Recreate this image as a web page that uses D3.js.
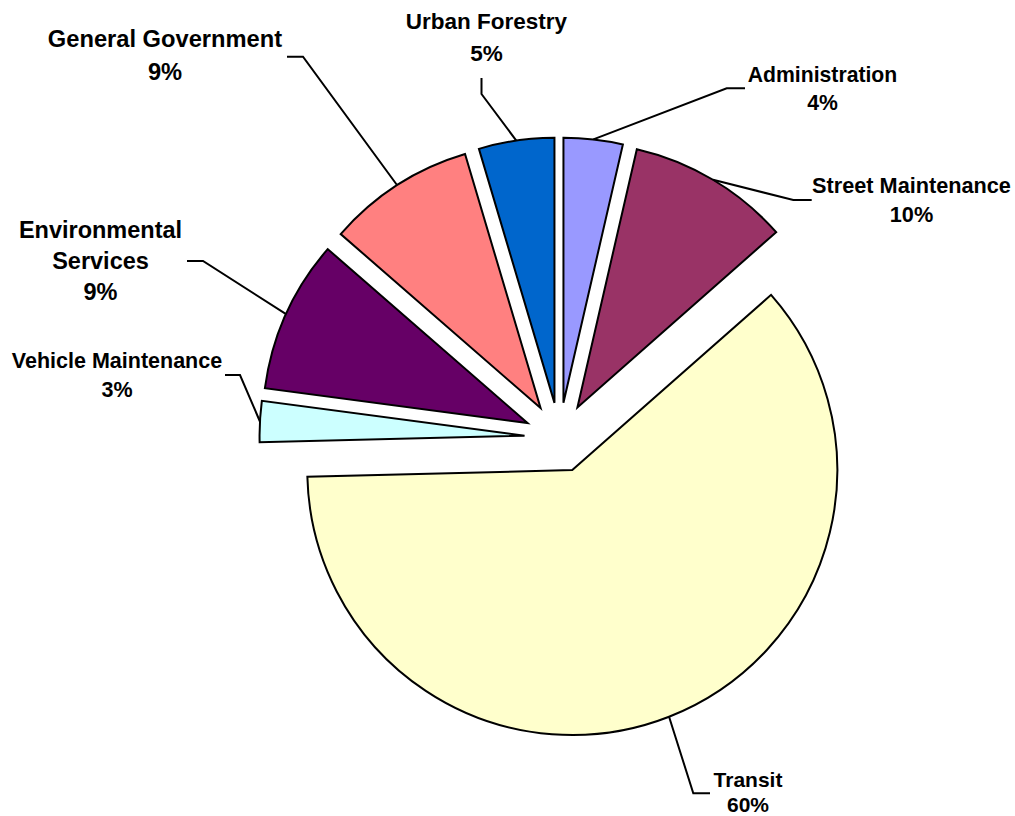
<!DOCTYPE html>
<html>
<head>
<meta charset="utf-8">
<script src="https://cdn.jsdelivr.net/npm/d3@7"></script>
<style>
  body { margin: 0; background: #ffffff; }
  svg { display: block; }
  text { font-family: "Liberation Sans", Arial, sans-serif; font-weight: bold; fill: #000; }
</style>
</head>
<body>
<svg id="chart" width="1015" height="816"></svg>
<script>
// ---- data ----
const categories = ["Administration", "Street Maintenance", "Transit", "Vehicle Maintenance",
                    "Environmental Services", "General Government", "Urban Forestry"];
const values = [3.6, 9.9, 61.1, 2.5, 9.3, 9.0, 4.6];
const percentLabels = ["4%", "10%", "60%", "3%", "9%", "9%", "5%"];
const nameLines = [["Administration"], ["Street Maintenance"], ["Transit"], ["Vehicle Maintenance"],
                   ["Environmental", "Services"], ["General Government"], ["Urban Forestry"]];
const colors = ["#9999FF", "#993366", "#FFFFCC", "#CCFFFF", "#660066", "#FF8080", "#0066CC"];

// ---- label layout (position of each label block and its leader elbow) ----
const labelX      = [822.5, 911.5, 748, 117, 100.5, 165, 486.5];
const labelY      = [81.7, 193.3, 786.5, 368, 238.3, 47.3, 29];
const labelLead   = [28.3, 28.4, 25, 28.7, 31, 32.7, 32];
const labelSize   = [21.2, 21.7, 21, 21.5, 23.5, 23.7, 22.5];
const leaderElbow = [
  [[745, 88.3], [726.7, 88.3]],
  [[811.7, 200], [793.3, 200]],
  [[710, 793.3], [693.3, 793.3]],
  [[225, 375], [240, 375]],
  [[187, 261], [203, 261]],
  [[287, 56.7], [303, 56.7]],
  [[481.5, 78], [481.5, 94]]
];

// ---- geometry ----
const cx = 559.5, cy = 437.5, R = 265, explode = 35;

const svg = d3.select("#chart");
const g = svg.append("g").attr("transform", `translate(${cx},${cy})`);

const pie = d3.pie().sort(null).value(d => d).startAngle(0).endAngle(2 * Math.PI);
const arcs = pie(values);
const arc = d3.arc().innerRadius(0).outerRadius(R);

const offset = d => {
  const m = (d.startAngle + d.endAngle) / 2;
  return [Math.sin(m) * explode, -Math.cos(m) * explode];
};

g.selectAll("path.slice")
  .data(arcs)
  .enter().append("path")
  .attr("class", "slice")
  .attr("d", arc)
  .attr("transform", d => `translate(${offset(d)[0]},${offset(d)[1]})`)
  .attr("fill", (d, i) => colors[i])
  .attr("stroke", "#000")
  .attr("stroke-width", 2)
  .attr("stroke-linejoin", "miter");

// leader lines
const line = d3.line();
arcs.forEach((d, i) => {
  const m = (d.startAngle + d.endAngle) / 2;
  const [ox, oy] = offset(d);
  const ax = cx + ox + Math.sin(m) * R;
  const ay = cy + oy - Math.cos(m) * R;
  const pts = leaderElbow[i].concat([[ax, ay]]);
  svg.append("path")
    .attr("d", line(pts))
    .attr("fill", "none")
    .attr("stroke", "#000")
    .attr("stroke-width", 2);
});

// labels
arcs.forEach((d, i) => {
  const lines = nameLines[i].concat([percentLabels[i]]);
  const t = svg.append("text")
    .attr("text-anchor", "middle")
    .attr("font-size", labelSize[i]);
  lines.forEach((s, k) => {
    t.append("tspan")
      .attr("x", labelX[i])
      .attr("y", labelY[i] + k * labelLead[i])
      .text(s);
  });
});
</script>
</body>
</html>
